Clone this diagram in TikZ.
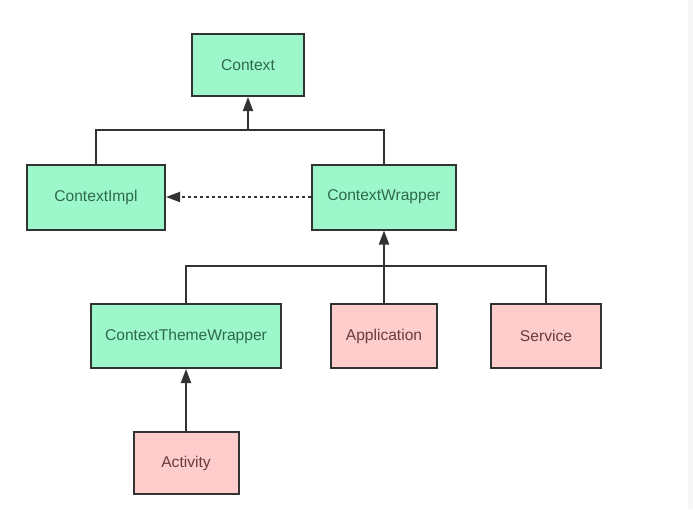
\documentclass[tikz,border=0pt]{standalone}
\usepackage{fontspec}
\setmainfont{Liberation Sans}
\usetikzlibrary{arrows.meta}
\definecolor{gfill}{HTML}{9CF7CB}
\definecolor{pfill}{HTML}{FFCCCC}
\definecolor{gtext}{HTML}{2E6A4C}
\definecolor{ptext}{HTML}{6A3A3A}
\definecolor{edge}{HTML}{333333}
\begin{document}
\begin{tikzpicture}[x=1pt,y=-1pt,
  box/.style={draw=edge,line width=2pt,inner sep=0pt,font=\fontsize{15.6}{18}\selectfont},
  gbox/.style={box,fill=gfill,text=gtext},
  pbox/.style={box,fill=pfill,text=ptext},
  conn/.style={draw=edge,line width=2pt},
  inh/.style={conn,-{Triangle[length=14pt,width=10pt]}}]
\useasboundingbox (0,0) rectangle (693,509);
\fill[white] (0,0) rectangle (693,509);
\fill[gray!6] (688,0) rectangle (693,509);
\node[gbox,minimum width=112pt,minimum height=62pt] (ctx) at (248,65) {Context};
\node[gbox,minimum width=138pt,minimum height=65pt] (impl) at (96,197) {ContextImpl};
\node[gbox,minimum width=144pt,minimum height=65pt] (wrap) at (384,197) {ContextWrapper};
\node[gbox,minimum width=190pt,minimum height=64pt] (ctw) at (186,336) {ContextThemeWrapper};
\node[pbox,minimum width=106pt,minimum height=64pt] (app) at (384,336) {Application};
\node[pbox,minimum width=110pt,minimum height=64pt] (srv) at (546,336) {Service};
\node[pbox,minimum width=105pt,minimum height=62pt] (act) at (186,463) {Activity};
\coordinate (j1) at (248,130);
\coordinate (j2) at (384,266);
\draw[conn] (impl.north) |- (j1) -| (wrap.north);
\draw[inh] (j1) -- (ctx.south);
\draw[conn] (ctw.north) |- (j2) -| (srv.north);
\draw[inh] (app.north) -- (wrap.south);
\draw[inh] (act.north) -- (ctw.south);
\draw[conn,dash pattern=on 3pt off 3pt,-{Triangle[length=14pt,width=10pt]}] (wrap.west) -- (impl.east);
\end{tikzpicture}
\end{document}
